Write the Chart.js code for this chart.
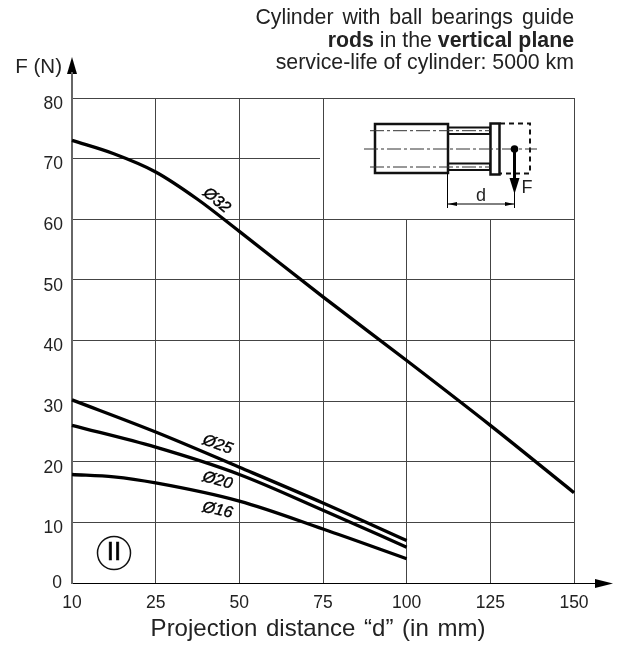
<!DOCTYPE html>
<html>
<head>
<meta charset="utf-8">
<style>
    html, body { margin: 0; padding: 0; background: #fff; }
    #wrap { position: relative; width: 621px; height: 646px; }
    #header {
        position: absolute; top: 6px; right: 47px; text-align: right; white-space: nowrap;
        font: 21.3px/22.5px "Liberation Sans", sans-serif; color: #222;
    }
    #header .wide { word-spacing: 3px; }
</style>
<script src="https://cdn.jsdelivr.net/npm/chart.js@4/dist/chart.umd.min.js"></script>
</head>
<body>
<div id="wrap">
    <div id="header"><span class="wide">Cylinder with ball bearings guide</span><br><b>rods</b> in the <b>vertical plane</b><br>service-life of cylinder: 5000 km</div>
    <canvas id="chart" width="621" height="646"></canvas>
</div>
<script>
// x axis is evenly spaced per tick, not linear in mm
const distanceTicks = [10, 25, 50, 75, 100, 125, 150];
const forceTicks = [0, 10, 20, 30, 40, 50, 60, 70, 80];

const d32 = [10, 17.5, 25, 37.5, 50, 75, 100, 125, 150];
const f32 = [73, 70.8, 67.8, 63.3, 58, 47.2, 36.7, 26, 14.9];

const dSmall = [10, 25, 50, 75, 100];
const f25 = [30.2, 24.9, 19.1, 13.2, 7];
const f20 = [26, 22.4, 17.9, 12, 5.9];
const dSmall16 = [10, 17.5, 25, 50, 75, 100];
const f16 = [17.9, 17.5, 16.5, 13.5, 8.9, 4];

const INK = '#222';
const TICK_FONT = '"Liberation Sans", sans-serif';

// mm -> position along the tick-indexed axis
function toAxis(d) {
    for (let i = 1; i < distanceTicks.length; i++) {
        if (d <= distanceTicks[i]) {
            return i - 1 + (d - distanceTicks[i - 1]) / (distanceTicks[i] - distanceTicks[i - 1]);
        }
    }
    return distanceTicks.length - 1;
}

function curve(ds, fs) {
    return {
        data: ds.map((d, i) => ({ x: toAxis(d), y: fs[i] })),
        borderColor: '#000',
        borderWidth: 3.3,
        pointRadius: 0,
        cubicInterpolationMode: 'monotone',
        clip: false
    };
}

function line(ctx, x1, y1, x2, y2) {
    ctx.beginPath();
    ctx.moveTo(x1, y1);
    ctx.lineTo(x2, y2);
    ctx.stroke();
}

function arrow(ctx, x1, y1, x2, y2, x3, y3) {
    ctx.beginPath();
    ctx.moveTo(x1, y1);
    ctx.lineTo(x2, y2);
    ctx.lineTo(x3, y3);
    ctx.closePath();
    ctx.fill();
}

function drawInset(ctx, area) {
    const left = 323.5, bottom = 219;
    // white box hides the grid behind the schematic
    ctx.fillStyle = '#fff';
    ctx.fillRect(320, area.top + 1, area.right - 320, bottom - area.top - 1);
    ctx.strokeStyle = '#444';
    ctx.lineWidth = 1;
    line(ctx, left, area.top, left, bottom);

    ctx.strokeStyle = '#111';
    ctx.lineWidth = 2.5;
    ctx.strokeRect(375, 124, 73, 49);
    ctx.strokeRect(490.5, 123.5, 9, 51);
    ctx.lineWidth = 2;
    ctx.strokeRect(448, 127.5, 42, 6.5);
    ctx.strokeRect(448, 163.5, 42, 6.5);

    ctx.setLineDash([5, 4]);
    ctx.beginPath();
    ctx.moveTo(500, 123.5);
    ctx.lineTo(530, 123.5);
    ctx.lineTo(530, 173.5);
    ctx.lineTo(500, 173.5);
    ctx.stroke();

    ctx.lineWidth = 1;
    ctx.strokeStyle = '#333';
    ctx.setLineDash([14, 3, 3, 3]);
    line(ctx, 364, 149, 537, 149);
    line(ctx, 370, 130.7, 490, 130.7);
    line(ctx, 370, 167, 490, 167);
    ctx.setLineDash([]);

    // load arrow
    ctx.fillStyle = '#000';
    ctx.strokeStyle = '#000';
    ctx.beginPath();
    ctx.arc(514.5, 149, 3.8, 0, Math.PI * 2);
    ctx.fill();
    ctx.lineWidth = 3;
    line(ctx, 514.5, 149, 514.5, 180);
    arrow(ctx, 509.5, 178, 519.5, 178, 514.5, 194);

    // dimension d
    ctx.lineWidth = 1;
    line(ctx, 447.5, 173, 447.5, 208);
    line(ctx, 514.5, 190, 514.5, 208);
    line(ctx, 448, 204, 514, 204);
    arrow(ctx, 448, 204, 457, 202, 457, 206);
    arrow(ctx, 514, 204, 505, 202, 505, 206);

    ctx.fillStyle = INK;
    ctx.font = '18px "Liberation Sans", sans-serif';
    ctx.textAlign = 'center';
    ctx.textBaseline = 'middle';
    ctx.fillText('F', 527, 188);
    ctx.fillText('d', 481, 196);
}

// labels sitting along the curves, given in data space
const curveLabels = [
    { text: 'Ø32', d: 43.2, f: 63.1, angle: 40 },
    { text: 'Ø25', d: 43.5, f: 22.8, angle: 20 },
    { text: 'Ø20', d: 43.5, f: 16.9, angle: 16 },
    { text: 'Ø16', d: 43.5, f: 12, angle: 12 }
];

const decorations = {
    id: 'decorations',
    beforeDatasetsDraw(chart) {
        drawInset(chart.ctx, chart.chartArea);
    },
    afterDraw(chart) {
        const ctx = chart.ctx;
        const area = chart.chartArea;
        const xs = chart.scales.x;
        const ys = chart.scales.y;
        ctx.save();

        // axis arrows
        ctx.fillStyle = '#000';
        arrow(ctx, area.left, 57, area.left - 5, 74, area.left + 5, 74);
        ctx.strokeStyle = '#666';
        ctx.lineWidth = 2;
        line(ctx, area.left, 72, area.left, area.top);
        ctx.strokeStyle = '#000';
        ctx.lineWidth = 1;
        line(ctx, area.right, area.bottom + 0.5, 600, area.bottom + 0.5);
        arrow(ctx, 613, area.bottom + 0.5, 595, area.bottom - 4, 595, area.bottom + 5);

        ctx.fillStyle = INK;
        ctx.textBaseline = 'middle';
        ctx.font = '17.5px ' + TICK_FONT;
        ctx.textAlign = 'right';
        ctx.fillText('0', 62, ys.getPixelForValue(0));
        ctx.font = '20.5px "Liberation Sans", sans-serif';
        ctx.fillText('F (N)', 62, 67);

        ctx.textAlign = 'center';
        ctx.font = '24px "Liberation Sans", sans-serif';
        ctx.wordSpacing = '2px';
        ctx.fillText('Projection distance “d” (in mm)', 318, 629);
        ctx.wordSpacing = '0px';

        // curve names
        ctx.fillStyle = '#000';
        ctx.font = 'italic 16px "Liberation Sans", sans-serif';
        curveLabels.forEach(l => {
            ctx.save();
            ctx.translate(xs.getPixelForValue(toAxis(l.d)), ys.getPixelForValue(l.f));
            ctx.rotate(l.angle * Math.PI / 180);
            ctx.fillText(l.text, 0, 0);
            ctx.strokeStyle = '#000';
            ctx.lineWidth = 0.4;
            ctx.strokeText(l.text, 0, 0);
            ctx.restore();
        });

        // II mark
        ctx.strokeStyle = '#111';
        ctx.lineWidth = 1.5;
        ctx.beginPath();
        ctx.arc(114, 553, 16.5, 0, Math.PI * 2);
        ctx.stroke();
        ctx.fillStyle = '#000';
        ctx.strokeStyle = '#000';
        ctx.lineWidth = 0.6;
        ctx.font = '26px "Liberation Sans", sans-serif';
        ctx.fillText('II', 114, 553);
        ctx.strokeText('II', 114, 553);
        ctx.restore();
    }
};

new Chart(document.getElementById('chart'), {
    type: 'line',
    data: {
        datasets: [curve(d32, f32), curve(dSmall, f25), curve(dSmall, f20), curve(dSmall16, f16)]
    },
    options: {
        responsive: false,
        animation: false,
        layout: { padding: { top: 98, right: 47, left: 0, bottom: 0 } },
        plugins: { legend: { display: false }, tooltip: { enabled: false } },
        scales: {
            x: {
                type: 'linear',
                min: 0,
                max: distanceTicks.length - 1,
                afterFit: s => { s.height = 63; },
                grid: { color: '#444', lineWidth: 1, drawTicks: false },
                border: { color: '#000', width: 1 },
                ticks: {
                    stepSize: 1,
                    padding: 10,
                    color: INK,
                    maxRotation: 0,
                    font: { family: TICK_FONT, size: 17.5 },
                    callback: v => distanceTicks[v]
                }
            },
            y: {
                min: forceTicks[0],
                max: forceTicks[forceTicks.length - 1],
                afterFit: s => { s.width = 72; },
                grid: { color: '#444', lineWidth: 1, drawTicks: false },
                border: { color: '#666', width: 2 },
                ticks: {
                    stepSize: 10,
                    padding: 9,
                    labelOffset: 6,
                    color: INK,
                    font: { family: TICK_FONT, size: 17.5 },
                    // the 0 sits level with the axis, drawn in the plugin
                    callback: v => (v === 0 ? '' : v)
                }
            }
        }
    },
    plugins: [decorations]
});
</script>
</body>
</html>
